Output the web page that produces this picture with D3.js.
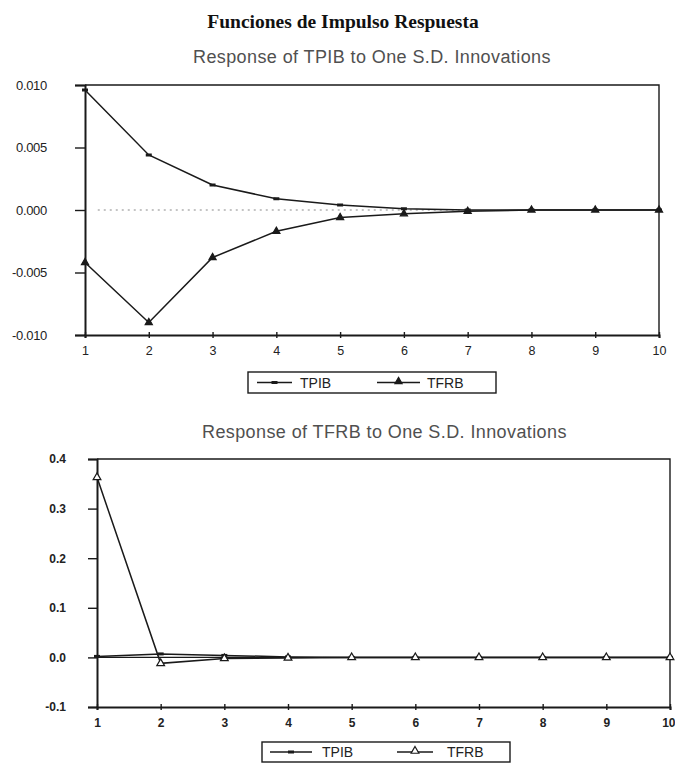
<!DOCTYPE html>
<html>
<head>
<meta charset="utf-8">
<script src="https://cdn.jsdelivr.net/npm/d3@7"></script>
<style>
  html, body { margin: 0; padding: 0; background: #fff; }
  svg { display: block; }
</style>
</head>
<body>
<svg id="chart" width="675" height="764"></svg>
<script>
// Impulse-response data (periods 1..10)
const periods = [1, 2, 3, 4, 5, 6, 7, 8, 9, 10];
const seriesNames = ["TPIB", "TFRB"];

// Response of TPIB
const tpibOnTPIB = [0.0096, 0.0044, 0.0020, 0.0009, 0.0004, 0.0001, 0.0000, 0.0000, 0.0000, 0.0000];
const tpibOnTFRB = [-0.0042, -0.0090, -0.0038, -0.0017, -0.0006, -0.0003, -0.0001, 0.0000, 0.0000, 0.0000];
const topYTicks = [0.010, 0.005, 0.000, -0.005, -0.010];

// Response of TFRB
const tfrbOnTPIB = [0.002, 0.007, 0.004, 0.001, 0.000, 0.000, 0.000, 0.000, 0.000, 0.000];
const tfrbOnTFRB = [0.363, -0.012, -0.002, -0.001, 0.000, 0.000, 0.000, 0.000, 0.000, 0.000];
const bottomYTicks = [0.4, 0.3, 0.2, 0.1, 0.0, -0.1];

const svg = d3.select("#chart");
const INK = "#1a1a1a";
const SANS = "'Liberation Sans', Arial, sans-serif";

svg.append("text")
  .attr("x", 343).attr("y", 28)
  .attr("text-anchor", "middle")
  .attr("font-family", "'Liberation Serif', 'Times New Roman', serif")
  .attr("font-weight", "bold")
  .attr("font-size", 19.5)
  .attr("fill", "#111")
  .text("Funciones de Impulso Respuesta");

function panel(opts) {
  const g = svg.append("g");
  const x = d3.scaleLinear().domain([1, 10]).range([opts.left, opts.right]);
  const y = d3.scaleLinear().domain(opts.yDomain).range([opts.bottom, opts.top]);

  g.append("text")
    .attr("x", opts.titleX).attr("y", opts.titleY)
    .attr("font-family", SANS)
    .attr("font-size", 18)
    .attr("letter-spacing", 0.4)
    .attr("fill", "#505050")
    .text(opts.title);

  // frame (top and right)
  g.append("path")
    .attr("d", `M${opts.left},${opts.top}H${opts.right}V${opts.bottom}`)
    .attr("fill", "none").attr("stroke", INK).attr("stroke-width", 1.4);

  // zero reference
  if (opts.zeroDotted) {
    g.append("line")
      .attr("x1", x(1.2)).attr("x2", x(7)).attr("y1", y(0)).attr("y2", y(0))
      .attr("stroke", "#8a8a8a").attr("stroke-width", 1.2)
      .attr("stroke-dasharray", "2,4");
  } else {
    g.append("line")
      .attr("x1", x(1)).attr("x2", x(10)).attr("y1", y(0)).attr("y2", y(0))
      .attr("stroke", INK).attr("stroke-width", 1.4);
  }

  const yAxis = d3.axisLeft(y)
    .tickValues(opts.yTicks)
    .tickSize(opts.yTickSize)
    .tickPadding(opts.yPad)
    .tickFormat(d => Math.abs(d) < 1e-12 ? (0).toFixed(opts.decimals) : d.toFixed(opts.decimals));
  const ya = g.append("g").attr("transform", `translate(${opts.left},0)`).call(yAxis);
  ya.select(".domain").attr("stroke", INK).attr("stroke-width", 2);
  ya.selectAll(".tick line").attr("stroke", INK).attr("stroke-width", 1.4);
  ya.selectAll(".tick text")
    .attr("font-family", SANS)
    .attr("font-size", opts.yTickFont)
    .attr("font-weight", opts.tickWeight)
    .attr("letter-spacing", opts.yLetter || 0)
    .attr("fill", "#222");

  const xAxis = d3.axisBottom(x)
    .tickValues(periods)
    .tickSize(3)
    .tickPadding(opts.xPad)
    .tickFormat(d3.format("d"));
  const xa = g.append("g").attr("transform", `translate(0,${opts.bottom})`).call(xAxis);
  xa.select(".domain").attr("stroke", INK).attr("stroke-width", 2);
  xa.selectAll(".tick line").attr("stroke", INK).attr("stroke-width", 1.4).attr("y1", -3);
  xa.selectAll(".tick text")
    .attr("font-family", SANS)
    .attr("font-size", opts.xTickFont)
    .attr("font-weight", opts.tickWeight)
    .attr("fill", "#222");
  // keep the last period label inside the page
  xa.selectAll(".tick text").filter(d => d === 10 && opts.right > 665)
    .attr("text-anchor", "end").attr("dx", 5);

  const line = d3.line().x((d, i) => x(periods[i])).y(d => y(d));
  [opts.a, opts.b].forEach(vals => {
    g.append("path")
      .attr("d", line(vals))
      .attr("fill", "none").attr("stroke", INK).attr("stroke-width", 1.5);
  });

  // TPIB markers: short thick dashes
  g.selectAll(".mA").data(opts.a).enter().append("rect")
    .attr("x", (d, i) => x(periods[i]) - 3)
    .attr("y", d => y(d) - 1.5)
    .attr("width", 6).attr("height", 3)
    .attr("fill", INK);

  // TFRB markers: triangles
  const tri = d3.symbol().type(d3.symbolTriangle).size(opts.triSize);
  g.selectAll(".mB").data(opts.b).enter().append("path")
    .attr("d", tri)
    .attr("transform", (d, i) => `translate(${x(periods[i])},${y(d)})`)
    .attr("fill", opts.triHollow ? "#fff" : INK)
    .attr("stroke", INK).attr("stroke-width", 1.2);

  // legend
  const L = opts.legend;
  const lg = g.append("g");
  lg.append("rect")
    .attr("x", L.x).attr("y", L.y).attr("width", L.w).attr("height", L.h)
    .attr("fill", "#fff").attr("stroke", INK).attr("stroke-width", 1.4);
  const mid = L.y + L.h / 2;
  L.items.forEach((it, k) => {
    lg.append("line")
      .attr("x1", L.x + it[0]).attr("x2", L.x + it[1]).attr("y1", mid).attr("y2", mid)
      .attr("stroke", INK).attr("stroke-width", 1.3);
    const cx = L.x + (it[0] + it[1]) / 2;
    if (k === 0) {
      lg.append("rect").attr("x", cx - 3).attr("y", mid - 1.5)
        .attr("width", 6).attr("height", 3).attr("fill", INK);
    } else {
      lg.append("path").attr("d", tri)
        .attr("transform", `translate(${cx},${mid - 1})`)
        .attr("fill", opts.triHollow ? "#fff" : INK)
        .attr("stroke", INK).attr("stroke-width", 1.2);
    }
    lg.append("text")
      .attr("x", L.x + it[2]).attr("y", mid + 5)
      .attr("font-family", SANS)
      .attr("font-size", 14)
      .attr("fill", "#222")
      .text(seriesNames[k]);
  });
}

panel({
  title: "Response of TPIB to One S.D. Innovations",
  titleX: 193, titleY: 63,
  left: 85, right: 659, top: 85, bottom: 335,
  yDomain: [-0.010, 0.010], yTicks: topYTicks, decimals: 3,
  yTickSize: 10, yPad: 28, xPad: 8, yTickFont: 13, xTickFont: 12.5, tickWeight: "normal",
  yLetter: -0.3,
  a: tpibOnTPIB, b: tpibOnTFRB,
  zeroDotted: true, triSize: 22, triHollow: false,
  legend: { x: 248, y: 372, w: 248, h: 21, items: [[9, 44, 52], [129, 172, 179]] }
});

panel({
  title: "Response of TFRB to One S.D. Innovations",
  titleX: 202, titleY: 438,
  left: 97, right: 670, top: 459, bottom: 707,
  yDomain: [-0.1, 0.4], yTicks: bottomYTicks, decimals: 1,
  yTickSize: 9, yPad: 22, xPad: 8, yTickFont: 12, xTickFont: 12, tickWeight: "bold",
  a: tfrbOnTPIB, b: tfrbOnTFRB,
  zeroDotted: false, triSize: 26, triHollow: true,
  legend: { x: 262, y: 742, w: 248, h: 20, items: [[8, 50, 60], [135, 171, 185]] }
});
</script>
</body>
</html>
